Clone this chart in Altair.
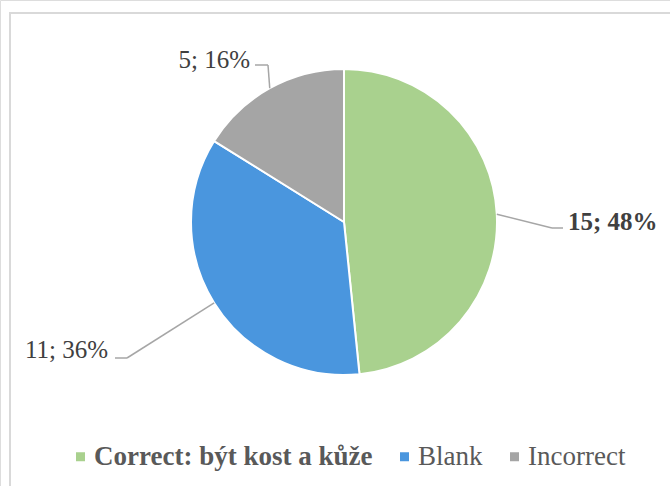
import altair as alt
import pandas as pd

categories = ["Correct: být kost a kůže", "Blank", "Incorrect"]
counts = [15, 11, 5]
label_texts = ["15; 48%", "11; 36%", "5; 16%"]
colors = ["#A9D18E", "#4A96DE", "#A5A5A5"]

df = pd.DataFrame({
    "category": categories,
    "count": counts,
    "label": label_texts,
    "order": list(range(len(categories))),
})

W, H = 670, 486
CX, CY, R = 344, 222, 153
FONT = "Liberation Serif"
LINE = "#A6A6A6"

# annotation layout (label anchor, elbow, end of leader line)
LAYOUT = {
    categories[0]: dict(elbow=(552, 228), end=(563, 228), text=(568, 222), align="left", weight="bold"),
    categories[1]: dict(elbow=(127, 358), end=(115, 358), text=(108, 350), align="right", weight="normal"),
    categories[2]: dict(elbow=(268, 65), end=(255, 65), text=(250, 60), align="right", weight="normal"),
}

color = alt.Color(
    "category:N",
    scale=alt.Scale(domain=categories, range=colors),
    sort=categories,
    legend=alt.Legend(
        title=None,
        orient="none",
        direction="horizontal",
        legendX=67,
        legendY=443,
        symbolType="square",
        symbolSize=81,
        symbolStrokeWidth=0,
        labelFont=FONT,
        labelFontSize=27,
        labelColor="#595959",
        labelOffset=0,
        labelLimit=500,
        columnPadding=18,
        padding=0,
        labelFontWeight={"expr": "indexof(datum.label, 'Correct') == 0 ? 'bold' : 'normal'"},
    ),
)

base = alt.Chart(df)

pie = base.mark_arc(outerRadius=R, stroke="white", strokeWidth=2).encode(
    theta=alt.Theta("count:Q", stack=True),
    color=color,
    order=alt.Order("order:Q"),
    x=alt.value(CX),
    y=alt.value(CY),
)

geo = base.transform_window(
    cum="sum(count)", sort=[alt.SortField("order")], frame=[None, 0]
).transform_joinaggregate(
    total="sum(count)"
).transform_calculate(
    mid="2*PI*(datum.cum - datum.count/2)/datum.total",
    ex=f"{CX} + {R}*sin(datum.mid)",
    ey=f"{CY} - {R}*cos(datum.mid)",
)

layers = []
one = alt.Chart(pd.DataFrame({"a": [0]}))
border_top = one.mark_rule(color="#D9D9D9", strokeWidth=2).encode(
    x=alt.value(10), x2=alt.value(W + 20), y=alt.value(13))
border_left = one.mark_rule(color="#D9D9D9", strokeWidth=2).encode(
    x=alt.value(10), y=alt.value(12), y2=alt.value(H + 20))
layers += [border_top, border_left, pie]

for cat in categories:
    lay = LAYOUT[cat]
    sub = geo.transform_filter(alt.datum.category == cat)
    seg1 = sub.mark_rule(color=LINE, strokeWidth=1.5).encode(
        x=alt.X("ex:Q", scale=None, axis=None),
        y=alt.Y("ey:Q", scale=None, axis=None),
        x2=alt.value(lay["elbow"][0]),
        y2=alt.value(lay["elbow"][1]),
    )
    seg2 = sub.mark_rule(color=LINE, strokeWidth=1.5).encode(
        x=alt.value(lay["elbow"][0]),
        x2=alt.value(lay["end"][0]),
        y=alt.value(lay["elbow"][1]),
    )
    txt = sub.mark_text(
        font=FONT, fontSize=25, color="#404040", align=lay["align"],
        baseline="middle", fontWeight=lay["weight"],
    ).encode(
        x=alt.value(lay["text"][0]),
        y=alt.value(lay["text"][1]),
        text="label:N",
    )
    layers += [seg1, seg2, txt]

chart = alt.layer(*layers).properties(
    width=W, height=H, padding=0, autosize=alt.AutoSizeParams(type="none")
).configure_view(stroke=None).configure(background="white")

chart.save("out.html", embed_options={"renderer": "svg", "actions": False})
